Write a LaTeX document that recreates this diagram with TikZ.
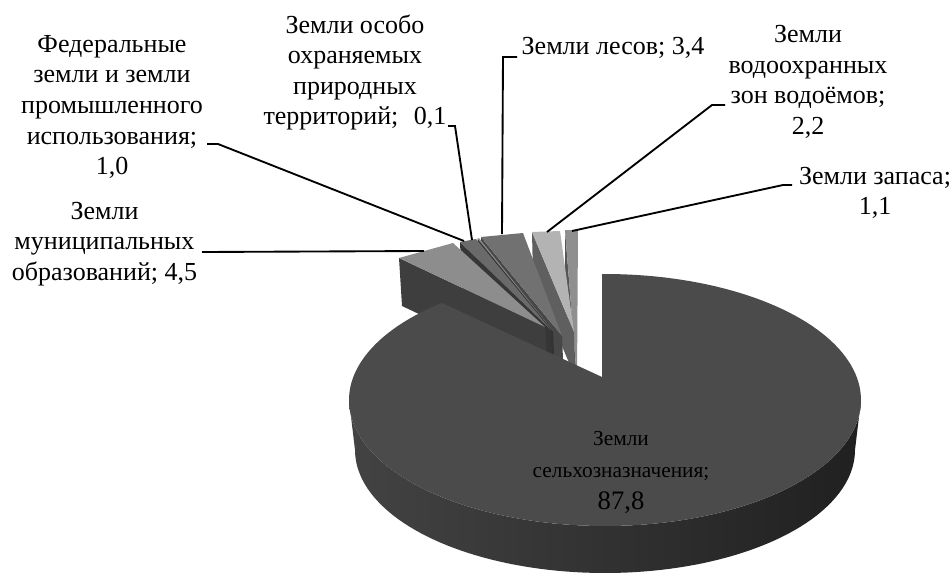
\documentclass[tikz,border=0pt]{standalone}
\usepackage{fontspec}
\setmainfont{Liberation Serif}
\definecolor{bigtop}{HTML}{4B4B4B}
\definecolor{sideL}{HTML}{434343}
\definecolor{sideM}{HTML}{383838}
\definecolor{sideR}{HTML}{202020}
\definecolor{munTop}{HTML}{8D8D8D}
\definecolor{munSide}{HTML}{3E3E3E}
\definecolor{fedTop}{HTML}{6A6A6A}
\definecolor{fedSide}{HTML}{363636}
\definecolor{ooptTop}{HTML}{888888}
\definecolor{ooptSide}{HTML}{333333}
\definecolor{lesTop}{HTML}{717171}
\definecolor{lesSide}{HTML}{474747}
\definecolor{vodTop}{HTML}{B3B3B3}
\definecolor{vodSide}{HTML}{5F5F5F}
\definecolor{zapTop}{HTML}{8F8F8F}
\definecolor{zapSide}{HTML}{555555}
\begin{document}
\begin{tikzpicture}[x=0.75pt,y=-0.75pt,
  lbl/.style={align=center,inner sep=0pt,font=\fontsize{19.5}{22.9}\selectfont},
  leader/.style={draw=black,line width=1.4pt}]
\useasboundingbox (0,0) rectangle (951,576);

% --- exploded small slices (back to front) ---
% Земли запаса
\fill[zapSide] (565,230) -- (577,380) -- (577,425) -- (565,275) -- cycle;
\fill[zapTop] (565,230) -- (578,230) -- (577,380) -- cycle;
% Земли водоохранных зон
\fill[vodSide] (532,232) -- (574,332) -- (575,377) -- (533,277) -- cycle;
\fill[vodTop] (532,232) -- (560,231) -- (574,332) -- cycle;
% Земли лесов
\fill[lesSide] (481,237) -- (562,336) -- (564,382) -- (483,283) -- cycle;
\fill[lesTop] (481,237) -- (523,233) -- (562,336) -- cycle;
% ООПТ
\fill[ooptSide] (477.5,238.5) -- (553,331) -- (555,378) -- (479.5,285.5) -- cycle;
\fill[ooptTop] (477.5,238.5) -- (479.2,238.3) -- (553,331) -- cycle;
% Федеральные
\fill[fedSide] (460,242) -- (551,330) -- (553,377) -- (462,289) -- cycle;
\fill[fedTop] (460,242) -- (476,239) -- (551,330) -- cycle;
% Муниципальные
\fill[munSide] (399,258) -- (545,327) -- (548,375) -- (402,306) -- cycle;
\fill[munTop] (399,258) -- (453,243) -- (545,327) -- cycle;

% --- main slice ---
\shade[left color=sideL, middle color=sideM, right color=sideR]
  plot[domain=0:180,samples=90] ({605+256*cos(\x)},{400+126*sin(\x)})
  -- plot[domain=180:0,samples=90] ({605+250*cos(\x)},{450+123*sin(\x)}) -- cycle;
\fill[bigtop] (602,377) -- (602,274)
  -- plot[domain=269.3:590.4,samples=160] ({605+256*cos(\x)},{400+126*sin(\x)}) -- cycle;

% --- labels ---
\node[lbl] (lFed) at (112,107) {Федеральные\\земли и земли\\промышленного\\использования;\\1,0};
\node[lbl] (lOopt) at (355,72.5) {Земли особо\\охраняемых\\природных\\территорий;\hspace{0.6em}0,1};
\node[lbl] (lLes) at (613,48) {Земли лесов; 3,4};
\node[lbl] (lVod) at (808,82) {Земли\\водоохранных\\зон водоёмов;\\2,2};
\node[lbl] (lZap) at (875,193) {Земли запаса;\\1,1};
\node[lbl] (lMun) at (104.5,244) {Земли\\муниципальных\\образований; 4,5};
\node[lbl,font=\fontsize{16}{24}\selectfont] (lSel) at (621,472.6)
  {Земли\\сельхозназначения;\\{\fontsize{20}{24}\selectfont 87,8}};

% --- leader lines ---
\coordinate (fedS) at (207,144); \coordinate (fedK) at (218,144); \coordinate (fedE) at (464,241);
\coordinate (oopS) at (448,126); \coordinate (oopK) at (455,126); \coordinate (oopE) at (472,240);
\coordinate (munS) at (202,252); \coordinate (munE) at (424,251);
\coordinate (lesS) at (517,57);  \coordinate (lesK) at (503,57);  \coordinate (lesE) at (502,234);
\coordinate (vodS) at (725,105); \coordinate (vodK) at (712,105); \coordinate (vodE) at (547,232);
\coordinate (zapS) at (792,185); \coordinate (zapK) at (783,185); \coordinate (zapE) at (572,231);
\draw[leader] (fedS) -- (fedK) -- (fedE);
\draw[leader] (oopS) -- (oopK) -- (oopE);
\draw[leader] (munS) -- (munE);
\draw[leader] (lesS) -- (lesK) -- (lesE);
\draw[leader] (vodS) -- (vodK) -- (vodE);
\draw[leader] (zapS) -- (zapK) -- (zapE);
\end{tikzpicture}
\end{document}
